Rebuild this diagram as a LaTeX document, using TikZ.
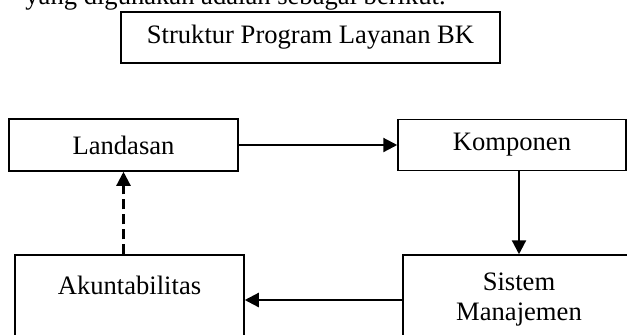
\documentclass[tikz,border=0pt]{standalone}
\usepackage{fontspec}
\setmainfont{Liberation Serif}
\usetikzlibrary{calc,arrows.meta}
\tikzset{>={Triangle[length=7pt,width=7pt]}}
\tikzset{
  kotak/.style={draw,line width=0.75pt,inner sep=0pt,align=center,
    font=\fontsize{13.3}{15}\selectfont},
  panah/.style={->,line width=1.1pt},
}

\begin{document}
\begin{tikzpicture}[x=0.5pt,y=-0.5pt]
            \clip (0,0) rectangle (627,334);
            % sisa kalimat di atas gambar
            \node[anchor=base west,inner sep=0pt,font=\fontsize{13.3}{15}\selectfont] (kalimat) at (25,4) {yang digunakan adalah sebagai berikut.};
            \node[kotak,minimum width=189.5pt,minimum height=25.5pt] (judul) at (310.5,37.5) {Struktur Program Layanan BK};
            \node[kotak,minimum width=114.5pt,minimum height=26pt] (landasan) at (123.5,145) {Landasan};
            \node[kotak,minimum width=114pt,minimum height=25.5pt] (komponen) at (512,145) {Komponen};
            \node[kotak,minimum width=114.5pt,minimum height=45pt] (akun) at (129.5,300) {Akuntabilitas\\\mbox{}};
            \node[kotak,minimum width=116pt,minimum height=45pt] (sistem) at (519,300) {Sistem\\Manajemen};
            \draw[panah] (landasan.east) -- (komponen.west);
            \draw[panah] (sistem.north |- komponen.south) -- (sistem.north);
            \draw[panah] (sistem.west) -- (akun.east);
            \draw[panah,dash pattern=on 5pt off 2.5pt] (landasan.south |- akun.north) -- (landasan.south);
\end{tikzpicture}
\end{document}
